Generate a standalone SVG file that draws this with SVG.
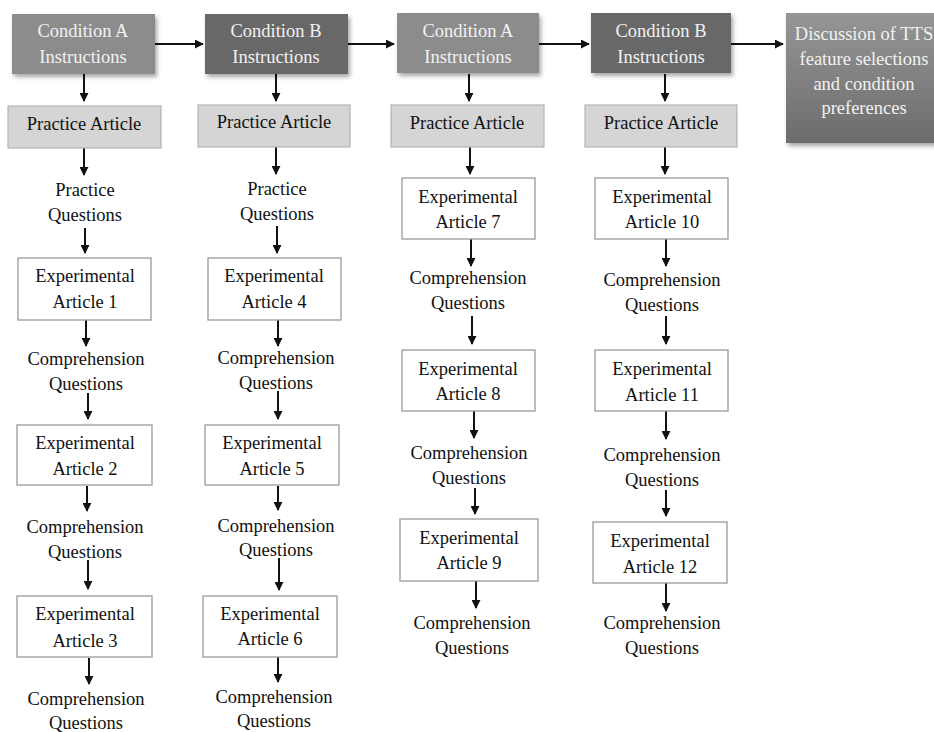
<svg xmlns="http://www.w3.org/2000/svg" width="934" height="732" viewBox="0 0 934 732">
<style>
text{font-family:"Liberation Serif","Times New Roman",serif;font-size:18.5px;text-anchor:middle;fill:#111}
.hd text{fill:#f2f2f2}
.ca{fill:#8c8c8c}
.cb{fill:#686868}
.pa{fill:#d5d5d5;stroke:#b5b5b5;stroke-width:1.2}
.ex{fill:#fff;stroke:#9a9a9a;stroke-width:1.3}
.ar{stroke:#111;stroke-width:2;fill:none;marker-end:url(#ah)}
</style>
<defs>
<marker id="ah" viewBox="0 0 10 10" refX="9" refY="5" markerWidth="4.5" markerHeight="4.5" orient="auto" markerUnits="strokeWidth">
<path d="M0,0 L10,5 L0,10 Z" fill="#111"/>
</marker>
<filter id="sh" x="-10%" y="-10%" width="130%" height="140%">
<feDropShadow dx="2" dy="3" stdDeviation="2" flood-color="#000" flood-opacity="0.35"/>
</filter>
<linearGradient id="dg" x1="0" y1="0" x2="0" y2="1">
<stop offset="0" stop-color="#969696"/>
<stop offset="1" stop-color="#6c6c6c"/>
</linearGradient>
</defs>
<rect width="934" height="732" fill="#fff"/>

<g id="connectors">
<path class="ar" d="M155,44 H203"/>
<path class="ar" d="M348,44 H394"/>
<path class="ar" d="M539,44 H589"/>
<path class="ar" d="M731,44 H783"/>

<path class="ar" d="M84,74 V101"/>
<path class="ar" d="M84,148 V175"/>
<path class="ar" d="M85,228 V253"/>
<path class="ar" d="M86,320 V346"/>
<path class="ar" d="M88,393 V419"/>
<path class="ar" d="M87,486 V511"/>
<path class="ar" d="M88,560 V589"/>
<path class="ar" d="M89,658 V684"/>

<path class="ar" d="M276,74 V101"/>
<path class="ar" d="M276,147 V174"/>
<path class="ar" d="M277,226 V253"/>
<path class="ar" d="M278,320 V346"/>
<path class="ar" d="M278,391 V419"/>
<path class="ar" d="M278,486 V510"/>
<path class="ar" d="M279,558 V590"/>
<path class="ar" d="M278,657 V682"/>

<path class="ar" d="M469,74 V101"/>
<path class="ar" d="M470,147 V174"/>
<path class="ar" d="M471,239 V266"/>
<path class="ar" d="M472,316 V344"/>
<path class="ar" d="M474,411 V438"/>
<path class="ar" d="M475,488 V514"/>
<path class="ar" d="M476,581 V608"/>

<path class="ar" d="M665,74 V101"/>
<path class="ar" d="M665,147 V174"/>
<path class="ar" d="M666,239 V266"/>
<path class="ar" d="M666,316 V344"/>
<path class="ar" d="M666,411 V439"/>
<path class="ar" d="M666,490 V516"/>
<path class="ar" d="M666,583 V611"/>
</g>

<g id="condA1" class="hd"><rect class="ca" x="12" y="14" width="143" height="60" filter="url(#sh)"/><text x="83" y="37">Condition A</text><text x="83" y="63">Instructions</text></g>
<g id="condB1" class="hd"><rect class="cb" x="205" y="14" width="143" height="60" filter="url(#sh)"/><text x="276" y="37">Condition B</text><text x="276" y="63">Instructions</text></g>
<g id="condA2" class="hd"><rect class="ca" x="397" y="13" width="142" height="60" filter="url(#sh)"/><text x="468" y="37">Condition A</text><text x="468" y="63">Instructions</text></g>
<g id="condB2" class="hd"><rect class="cb" x="591" y="13" width="140" height="60" filter="url(#sh)"/><text x="661" y="37">Condition B</text><text x="661" y="63">Instructions</text></g>
<g id="discussion" class="hd"><rect x="786" y="13" width="160" height="130" fill="url(#dg)" filter="url(#sh)"/><text x="864" y="40">Discussion of TTS</text><text x="864" y="65">feature selections</text><text x="864" y="90">and condition</text><text x="864" y="114">preferences</text></g>

<g id="practice1"><rect class="pa" x="8" y="106" width="153" height="42"/><text x="84" y="130">Practice Article</text></g>
<g id="practice2"><rect class="pa" x="198" y="105" width="152" height="42"/><text x="274" y="128">Practice Article</text></g>
<g id="practice3"><rect class="pa" x="391" y="105" width="153" height="42"/><text x="467" y="129">Practice Article</text></g>
<g id="practice4"><rect class="pa" x="585" y="105" width="152" height="42"/><text x="661" y="129">Practice Article</text></g>

<g id="pq1"><text x="85" y="196">Practice</text><text x="85" y="221">Questions</text></g>
<g id="pq2"><text x="277" y="195">Practice</text><text x="277" y="220">Questions</text></g>

<g id="ea1"><rect class="ex" x="18" y="258" width="133" height="62"/><text x="85" y="282">Experimental</text><text x="85" y="308">Article 1</text></g>
<g id="cq1"><text x="86" y="365">Comprehension</text><text x="86" y="390">Questions</text></g>
<g id="ea2"><rect class="ex" x="17" y="425" width="135" height="60"/><text x="85" y="449">Experimental</text><text x="85" y="475">Article 2</text></g>
<g id="cq2"><text x="85" y="533">Comprehension</text><text x="85" y="558">Questions</text></g>
<g id="ea3"><rect class="ex" x="17" y="596" width="135" height="61"/><text x="85" y="620">Experimental</text><text x="85" y="647">Article 3</text></g>
<g id="cq3"><text x="86" y="705">Comprehension</text><text x="86" y="729">Questions</text></g>

<g id="ea4"><rect class="ex" x="208" y="258" width="133" height="62"/><text x="274" y="282">Experimental</text><text x="274" y="308">Article 4</text></g>
<g id="cq4"><text x="276" y="364">Comprehension</text><text x="276" y="389">Questions</text></g>
<g id="ea5"><rect class="ex" x="205" y="425" width="134" height="60"/><text x="272" y="449">Experimental</text><text x="272" y="475">Article 5</text></g>
<g id="cq5"><text x="276" y="532">Comprehension</text><text x="276" y="556">Questions</text></g>
<g id="ea6"><rect class="ex" x="203" y="596" width="134" height="61"/><text x="270" y="620">Experimental</text><text x="270" y="645">Article 6</text></g>
<g id="cq6"><text x="274" y="703">Comprehension</text><text x="274" y="727">Questions</text></g>

<g id="ea7"><rect class="ex" x="402" y="178" width="133" height="61"/><text x="468" y="203">Experimental</text><text x="468" y="228">Article 7</text></g>
<g id="cq7"><text x="468" y="284">Comprehension</text><text x="468" y="309">Questions</text></g>
<g id="ea8"><rect class="ex" x="402" y="350" width="133" height="61"/><text x="468" y="375">Experimental</text><text x="468" y="400">Article 8</text></g>
<g id="cq8"><text x="469" y="459">Comprehension</text><text x="469" y="484">Questions</text></g>
<g id="ea9"><rect class="ex" x="400" y="519" width="138" height="62"/><text x="469" y="544">Experimental</text><text x="469" y="569">Article 9</text></g>
<g id="cq9"><text x="472" y="629">Comprehension</text><text x="472" y="654">Questions</text></g>

<g id="ea10"><rect class="ex" x="595" y="178" width="133" height="61"/><text x="662" y="203">Experimental</text><text x="662" y="228">Article 10</text></g>
<g id="cq10"><text x="662" y="286">Comprehension</text><text x="662" y="311">Questions</text></g>
<g id="ea11"><rect class="ex" x="595" y="350" width="133" height="61"/><text x="662" y="375">Experimental</text><text x="662" y="401">Article 11</text></g>
<g id="cq11"><text x="662" y="461">Comprehension</text><text x="662" y="486">Questions</text></g>
<g id="ea12"><rect class="ex" x="593" y="522" width="134" height="61"/><text x="660" y="547">Experimental</text><text x="660" y="573">Article 12</text></g>
<g id="cq12"><text x="662" y="629">Comprehension</text><text x="662" y="654">Questions</text></g>
</svg>
